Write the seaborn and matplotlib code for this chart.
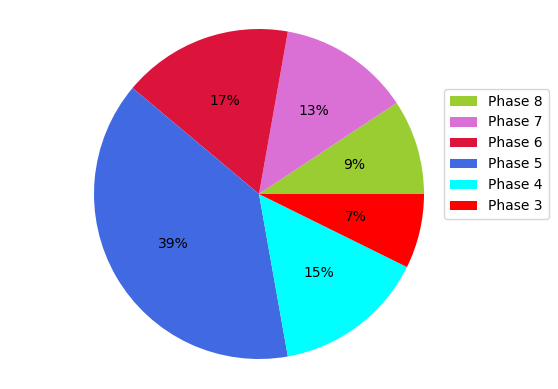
import matplotlib
matplotlib.use("Agg")
import matplotlib.pyplot as plt
import seaborn as sns

phases = ["Phase 8", "Phase 7", "Phase 6", "Phase 5", "Phase 4", "Phase 3"]
shares = [9.3, 12.9, 16.7, 38.9, 14.9, 7.3]
colors = ["yellowgreen", "orchid", "crimson", "royalblue", "cyan", "red"]

plt.rcParams['font.family'] = ['DejaVu Sans']
palette = sns.color_palette(colors)

fig = plt.figure(figsize=(5.58, 3.89), dpi=100)
ax = fig.add_axes([94/558, 30/389, 330/558, 330/389])
wedges, texts, autotexts = ax.pie(shares, colors=palette, autopct='%1.0f%%',
                                  startangle=0, counterclock=True,
                                  wedgeprops=dict(linewidth=0))
for w in wedges:
    w.set_clip_on(False)
for t in autotexts:
    t.set_color('black')
ax.set_xlim(-1, 1)
ax.set_ylim(-1, 1)
ax.set_aspect('equal')
ax.axis('off')

fig.legend(wedges, phases, loc='upper left',
           bbox_to_anchor=(444/558, 1 - 89/389), bbox_transform=fig.transFigure,
           borderaxespad=0)

fig.savefig("out.png", dpi=100)
